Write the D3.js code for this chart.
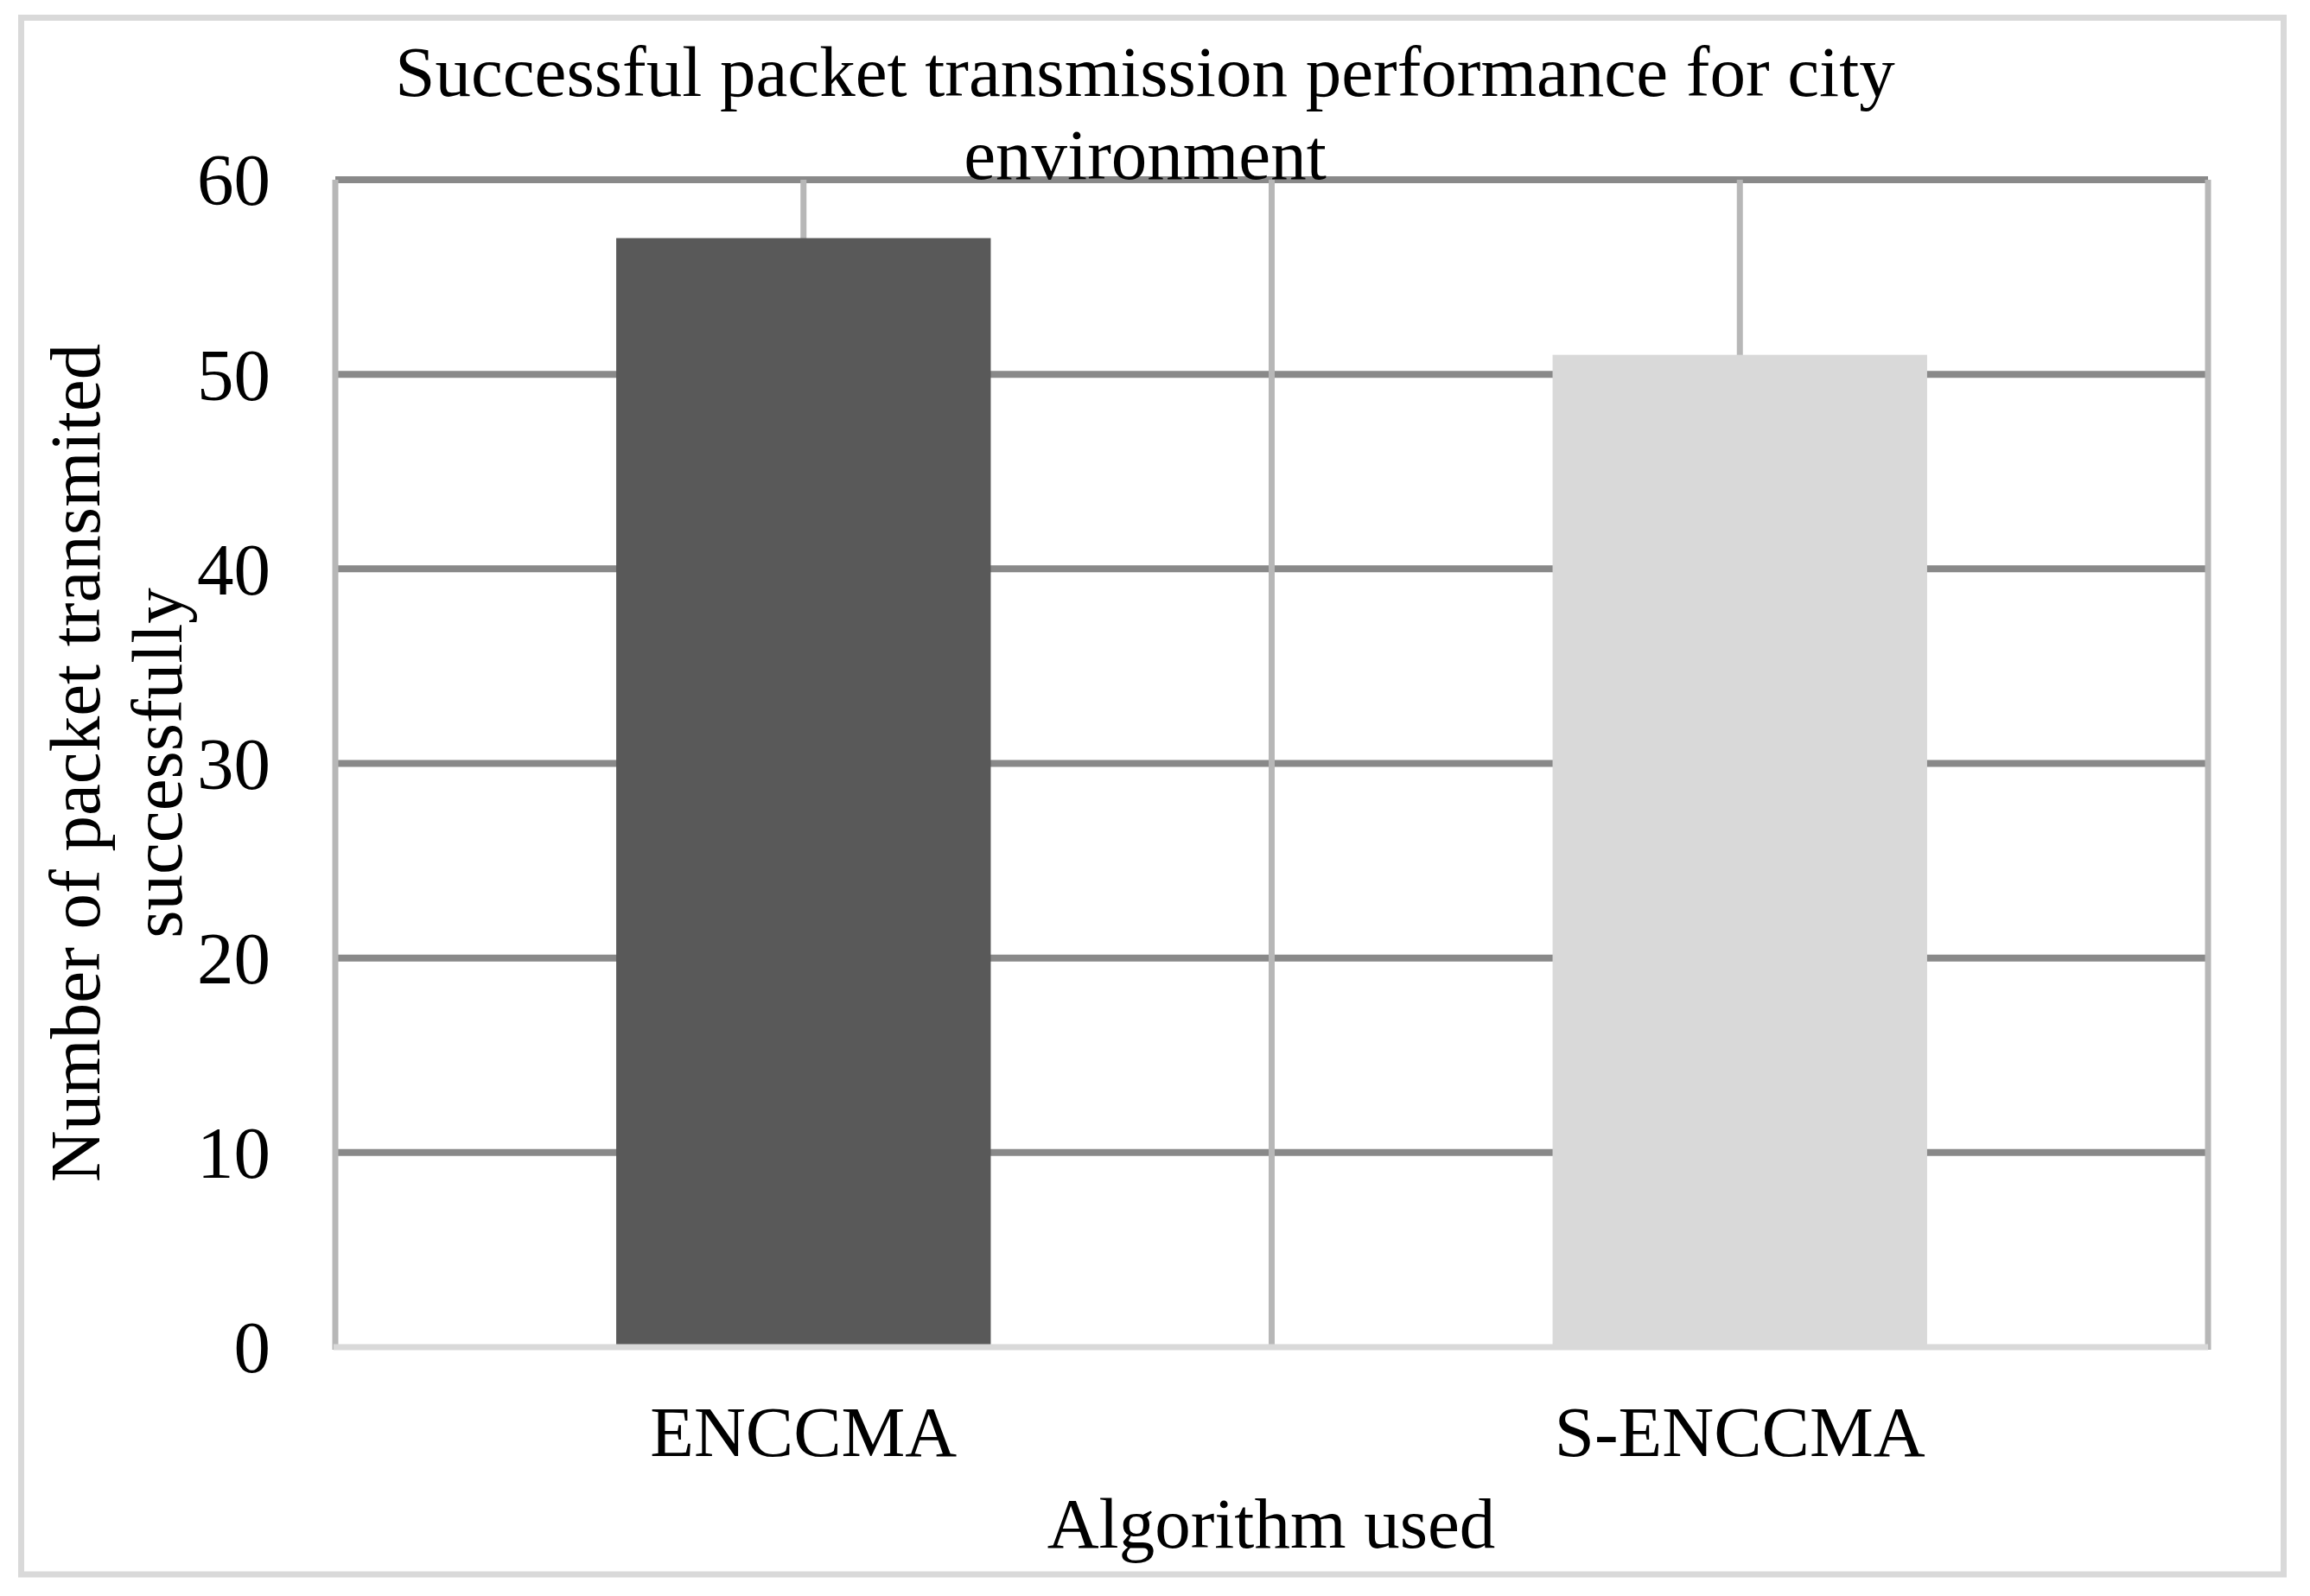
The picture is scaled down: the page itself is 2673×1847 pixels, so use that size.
<!DOCTYPE html>
<html>
<head>
<meta charset="utf-8">
<script src="https://cdn.jsdelivr.net/npm/d3@7"></script>
<style>
  html, body { margin: 0; padding: 0; background: #ffffff; }
  svg { display: block; }
  text { font-family: "Liberation Serif", "Times New Roman", serif; fill: #000; }
</style>
</head>
<body>
<script>
// ---- data ----
const categories = ["ENCCMA", "S-ENCCMA"];
const values = [57, 51];
const barColors = ["#595959", "#d9d9d9"];
const yTicks = [0, 10, 20, 30, 40, 50, 60];
const titleLines = ["Successful packet transmission performance for city", "environment"];
const yTitleLines = ["Number of packet transmited", "successfully"];
const xTitle = "Algorithm used";

(function () {
// ---- layout ----
const W = 2673, H = 1847;
const pLeft = 388, pRight = 2555, pTop = 208, pBottom = 1559;
const fs = 83;

const svg = d3.select("body").append("svg").attr("width", W).attr("height", H);
svg.append("rect").attr("width", W).attr("height", H).attr("fill", "#fff");

// outer border
svg.append("rect")
  .attr("x", 24.5).attr("y", 20.5).attr("width", 2618).attr("height", 1801.5)
  .attr("fill", "none").attr("stroke", "#d9d9d9").attr("stroke-width", 7);

const x = d3.scaleBand().domain(categories).range([pLeft, pRight])
  .paddingInner(0.6).paddingOuter(0.3);
const y = d3.scaleLinear().domain([0, 60]).range([pBottom, pTop]);

// horizontal gridlines
svg.append("g").selectAll("line").data(yTicks.filter(d => d > 0)).join("line")
  .attr("x1", pLeft).attr("x2", pRight)
  .attr("y1", d => y(d)).attr("y2", d => y(d))
  .attr("stroke", "#898989").attr("stroke-width", 8);

// vertical gridlines at band edges and centers
const step = x.step();
const firstEdge = x(categories[0]) - x.paddingOuter() * step;
const vLines = [];
categories.forEach((c, i) => {
  vLines.push(firstEdge + i * step);
  vLines.push(firstEdge + i * step + step / 2);
});
vLines.push(firstEdge + categories.length * step);
svg.append("g").selectAll("line").data(vLines).join("line")
  .attr("x1", d => d).attr("x2", d => d)
  .attr("y1", pTop).attr("y2", pBottom + 3)
  .attr("stroke", "#b7b7b7").attr("stroke-width", 7);

// bars
svg.append("g").selectAll("rect").data(categories).join("rect")
  .attr("x", d => x(d))
  .attr("width", x.bandwidth())
  .attr("y", (d, i) => y(values[i]))
  .attr("height", (d, i) => y(0) - y(values[i]))
  .attr("fill", (d, i) => barColors[i]);

// baseline axis
svg.append("line")
  .attr("x1", pLeft - 2).attr("x2", pRight)
  .attr("y1", y(0)).attr("y2", y(0))
  .attr("stroke", "#d9d9d9").attr("stroke-width", 7);

// y tick labels
const yAxis = d3.axisLeft(y).tickValues(yTicks).tickSize(0).tickPadding(0);
const gy = svg.append("g").attr("transform", `translate(313,0)`).call(yAxis);
gy.select(".domain").remove();
gy.selectAll("text")
  .attr("x", 0).attr("dy", "0.34em")
  .style("font-family", '"Liberation Serif", serif')
  .style("font-size", "85px").attr("fill", "#000");

// x tick labels
const xAxis = d3.axisBottom(x).tickSize(0).tickPadding(0);
const gx = svg.append("g").attr("transform", `translate(0,1685)`).call(xAxis);
gx.select(".domain").remove();
gx.selectAll("text")
  .attr("y", 0).attr("dy", 0)
  .style("font-family", '"Liberation Serif", serif')
  .style("font-size", fs + "px").attr("fill", "#000");

// title
svg.append("g").selectAll("text").data(titleLines).join("text")
  .attr("x", 1325).attr("y", (d, i) => 111 + i * 96)
  .attr("text-anchor", "middle").style("font-size", fs + "px")
  .text(d => d);

// y title
svg.append("g").selectAll("text").data(yTitleLines).join("text")
  .attr("transform", (d, i) => `translate(${115 + i * 95},883) rotate(-90)`)
  .attr("text-anchor", "middle").style("font-size", fs + "px")
  .text(d => d);

// x title
svg.append("text")
  .attr("x", 1471).attr("y", 1791)
  .attr("text-anchor", "middle").style("font-size", fs + "px")
  .text(xTitle);
})();
</script>
</body>
</html>
